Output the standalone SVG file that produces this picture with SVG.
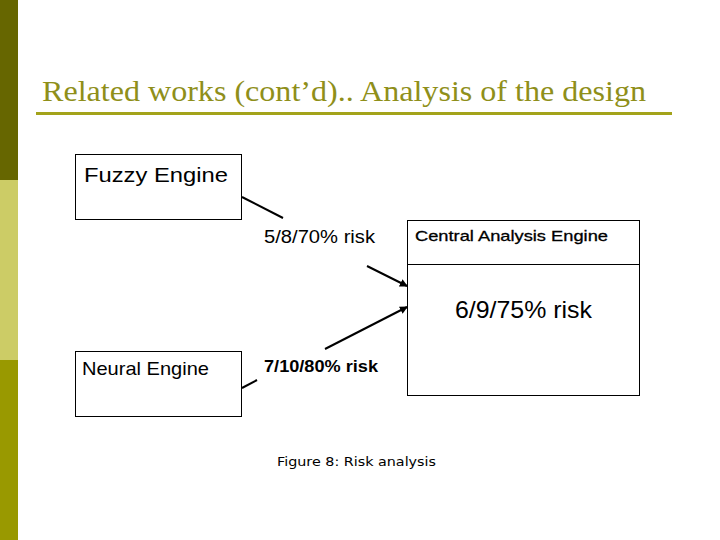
<svg xmlns="http://www.w3.org/2000/svg" width="720" height="540" viewBox="0 0 720 540">
<style>
.box{fill:#fff;stroke:#000;stroke-width:1}
.t{font-family:"Liberation Sans",Arial,sans-serif;fill:#000}
.ln{stroke:#000;stroke-width:2;fill:none}
</style>
<defs>
<marker id="ah" markerWidth="8" markerHeight="8" refX="7" refY="4" orient="auto" markerUnits="userSpaceOnUse">
<path d="M0,0 L8,4 L0,8 z" fill="#000"/>
</marker>
</defs>
<rect width="720" height="540" fill="#fff"/>
<rect x="0" y="0" width="18" height="180" fill="#666600"/>
<rect x="0" y="180" width="18" height="180" fill="#cccc66"/>
<rect x="0" y="360" width="18" height="180" fill="#999900"/>
<text x="42" y="101" font-family="'Liberation Serif','Times New Roman',serif" font-size="30" fill="#8f8f1a" textLength="604" lengthAdjust="spacingAndGlyphs">Related works (cont’d).. Analysis of the design</text>
<rect x="36" y="112" width="636" height="3" fill="#a3a31a"/>
<g id="fuzzy">
<rect class="box" x="75.5" y="154.5" width="166" height="65"/>
<text class="t" x="84" y="182" font-size="21" textLength="144" lengthAdjust="spacingAndGlyphs">Fuzzy Engine</text>
</g>
<g id="neural">
<rect class="box" x="75.5" y="351.5" width="166" height="65"/>
<text class="t" x="82" y="375" font-size="19" textLength="127" lengthAdjust="spacingAndGlyphs">Neural Engine</text>
</g>
<g id="central">
<rect class="box" x="407.5" y="220.5" width="232" height="175"/>
<line x1="407.5" y1="264.5" x2="639.5" y2="264.5" stroke="#000"/>
<text class="t" x="415" y="241" font-size="15" stroke="#000" stroke-width="0.3" textLength="193" lengthAdjust="spacingAndGlyphs">Central Analysis Engine</text>
<text class="t" x="455" y="318" font-size="24" textLength="137" lengthAdjust="spacingAndGlyphs">6/9/75% risk</text>
</g>
<g id="connectors">
<line class="ln" x1="242" y1="197" x2="283" y2="218"/>
<text class="t" x="264" y="243" font-size="18" textLength="111" lengthAdjust="spacingAndGlyphs">5/8/70% risk</text>
<line class="ln" x1="367" y1="266" x2="407" y2="286" marker-end="url(#ah)"/>
<line class="ln" x1="325" y1="349" x2="407" y2="307" marker-end="url(#ah)"/>
<line class="ln" x1="242" y1="388" x2="257" y2="380"/>
<text class="t" x="264" y="372" font-size="16" font-weight="bold" textLength="114" lengthAdjust="spacingAndGlyphs">7/10/80% risk</text>
</g>
<text x="277" y="466" font-family="'DejaVu Sans',Verdana,sans-serif" font-size="12.5" fill="#000" textLength="159" lengthAdjust="spacingAndGlyphs">Figure 8: Risk analysis</text>
</svg>
